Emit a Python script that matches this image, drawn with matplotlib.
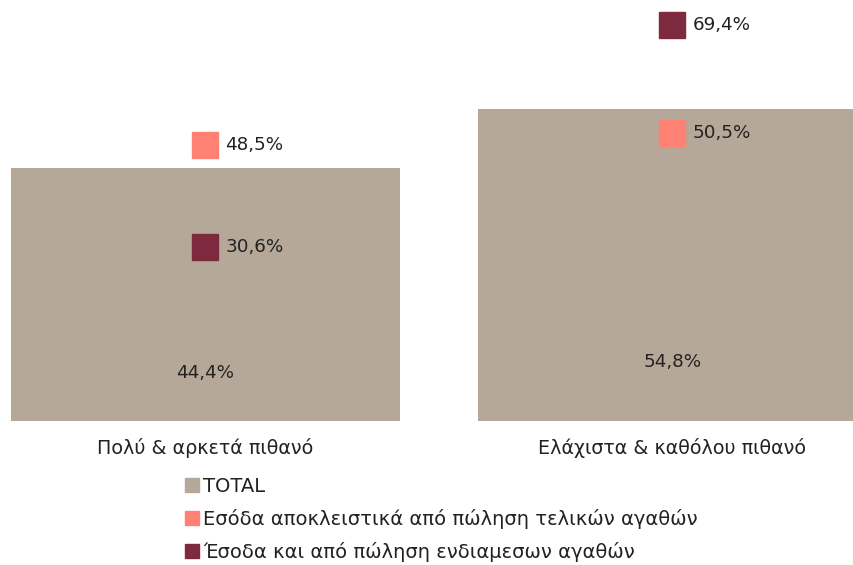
import matplotlib
matplotlib.use("Agg")
import matplotlib.pyplot as plt
from matplotlib.lines import Line2D

categories = ["Πολύ & αρκετά πιθανό", "Ελάχιστα & καθόλου πιθανό"]
total = [44.4, 54.8]
final_goods = [48.5, 50.5]
intermediate = [30.6, 69.4]
series_names = ["TOTAL",
                "Εσόδα αποκλειστικά από πώληση τελικών αγαθών",
                "Έσοδα και από πώληση ενδιαμεσων αγαθών"]

c_total = "#B5A899"
c_final = "#FF8173"
c_inter = "#7D2A3F"
txt = "#222222"

plt.rcParams['font.family'] = ['DejaVu Sans']

fig = plt.figure(figsize=(8.54, 5.65), dpi=100)
ax = fig.add_axes([0, 144/565, 1, 421/565])
x = list(range(len(categories)))
ax.bar(x, total, width=0.833, color=c_total, zorder=1)
ax.plot(x, final_goods, linestyle="none", marker="s", ms=19.4, color=c_final, zorder=3)
ax.plot(x, intermediate, linestyle="none", marker="s", ms=19.4, color=c_inter, zorder=3)

def fmt(v):
    return f"{v:.1f}%".replace(".", ",")

for xi, v in zip(x, total):
    ax.text(xi, v * 0.19, fmt(v), ha="center", va="center", fontsize=13.2, color=txt, zorder=4)
for series in (final_goods, intermediate):
    for xi, v in zip(x, series):
        ax.annotate(fmt(v), (xi, v), xytext=(20, 0), textcoords="offset pixels",
                    ha="left", va="center", fontsize=13.2, color=txt, zorder=4)

ax.set_xlim(-205.5/467, (854-205.5)/467)
ax.set_ylim(0, 421/5.7)
ax.set_xticks(x)
ax.set_xticklabels(categories, fontsize=13.8, color=txt)
ax.tick_params(axis="x", length=0, pad=12)
ax.set_yticks([])
for s in ax.spines.values():
    s.set_visible(False)

handles = [Line2D([], [], linestyle="none", marker="s", ms=10, color=c)
           for c in (c_total, c_final, c_inter)]
fig.legend(handles, series_names, loc="upper left", bbox_to_anchor=(185/854, 1 - 477/565),
           frameon=False, fontsize=14, handlelength=0.7, handletextpad=0.25,
           labelspacing=0.66, borderaxespad=0, borderpad=0, labelcolor=txt)

fig.savefig("out.png", dpi=100)
